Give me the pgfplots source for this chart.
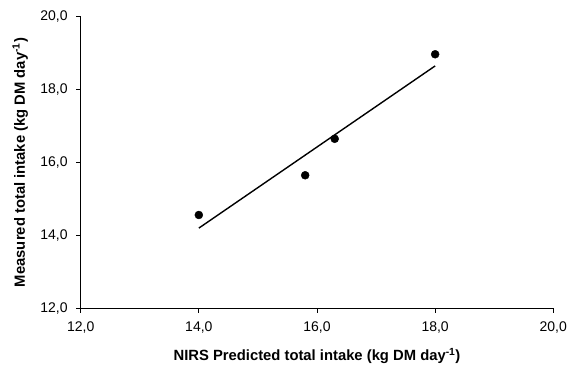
\documentclass[border=0pt]{standalone}
\usepackage{pgfplots}
\pgfplotsset{compat=1.18}
\usepackage{fontspec}
\setmainfont{Liberation Sans}
\begin{document}
\begin{tikzpicture}
\begin{axis}[
  at={(0,0)}, anchor=south west,
  scale only axis,
  width=472.6pt, height=291.6pt,
  xmin=12, xmax=20, ymin=12, ymax=20,
  axis lines*=left,
  axis line style={line width=0.8pt},
  xtick={12,14,16,18,20}, ytick={12,14,16,18,20},
  tick align=outside,
  major tick length=4.5pt,
  tick style={line width=0.8pt, black},
  /pgf/number format/assume math mode=true,
  /pgf/number format/.cd, fixed, fixed zerofill, precision=1, use comma,
  /pgfplots/.cd,
  ticklabel style={font=\fontsize{14}{16}\selectfont},
  xticklabel style={yshift=-5pt},
  yticklabel style={xshift=-5pt},
  xlabel={\textbf{NIRS Predicted total intake (kg DM day\textsuperscript{-1})}},
  ylabel={\textbf{Measured total intake (kg DM day\textsuperscript{-1})}},
  label style={font=\fontsize{14.8}{17}\selectfont},
  xlabel style={at={(axis description cs:0.5,-0.163)}, anchor=center},
  ylabel style={at={(axis description cs:-0.128,0.5)}, anchor=center, rotate=0},
  clip=false,
]
\addplot[only marks, mark=*, mark size=4pt, black] coordinates {
  (14.0,14.56) (15.8,15.65) (16.3,16.65) (18.0,18.97)
};
\addplot[black, line width=1.4pt] coordinates {
  (14.0,14.20) (18.0,18.65)
};
\end{axis}
\pgfresetboundingbox
\path (-80.7pt,-63.7pt) rectangle (487.3pt,308.3pt);
\end{tikzpicture}
\end{document}
